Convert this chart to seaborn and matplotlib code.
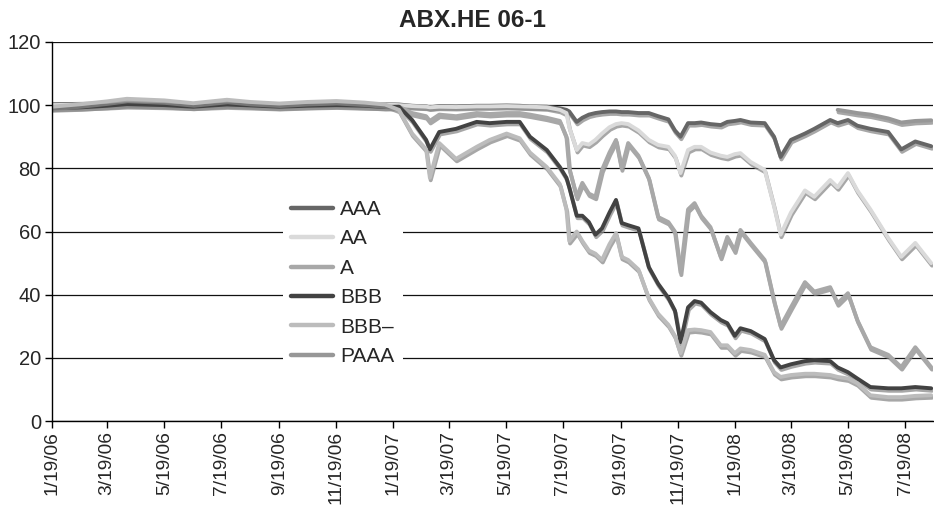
import pandas as pd
import numpy as np
import matplotlib
matplotlib.use("Agg")
import matplotlib.pyplot as plt
import matplotlib.patheffects as pe
import seaborn as sns

# Values (ABX.HE 06-1 prices)
dates = [
    "2006-01-19", "2006-02-19", "2006-03-19", "2006-04-09", "2006-05-19", "2006-06-19",
    "2006-07-25", "2006-08-19", "2006-09-19", "2006-10-19", "2006-11-19", "2006-12-19",
    "2007-01-10",
    "2007-01-25", "2007-02-08", "2007-02-23", "2007-02-27", "2007-03-09", "2007-03-27",
    "2007-04-18", "2007-05-02", "2007-05-20", "2007-06-03", "2007-06-14", "2007-07-02",
    "2007-07-16", "2007-07-23", "2007-07-26", "2007-08-03", "2007-08-09", "2007-08-16",
    "2007-08-23", "2007-08-30", "2007-09-07", "2007-09-14", "2007-09-20", "2007-09-27",
    "2007-10-08", "2007-10-19", "2007-10-29", "2007-11-09", "2007-11-16", "2007-11-22",
    "2007-11-30", "2007-12-07", "2007-12-14", "2007-12-24", "2008-01-04", "2008-01-11",
    "2008-01-19", "2008-01-25", "2008-02-05", "2008-02-20", "2008-03-01", "2008-03-08",
    "2008-03-19", "2008-04-03", "2008-04-13", "2008-04-30", "2008-05-08", "2008-05-19",
    "2008-05-29", "2008-06-12", "2008-07-01", "2008-07-15", "2008-07-30", "2008-08-16",
]

aaa = [100.3, 100.4, 100.5, 100.6, 100.4, 100.3, 100.5, 100.4, 100.3, 100.5, 100.6, 100.4, 100.3,
       100.2, 99.8, 99.6, 99.3, 99.7, 99.6, 99.8, 99.8, 99.9, 99.8,
       99.6, 99.5, 99.0, 98.5, 98.0, 94.7, 96.0, 97.0, 97.5, 97.8,
       98.0, 98.0, 97.8, 97.8, 97.5, 97.5, 96.5, 95.5, 92.0, 90.0,
       94.3, 94.3, 94.5, 94.0, 93.7, 94.7, 95.0, 95.3, 94.5, 94.3,
       90.0, 83.6, 89.0, 91.0, 92.5, 95.3, 94.3, 95.3, 93.5, 92.5,
       91.5, 86.0, 88.5, 87.0]
aa = [100.0, 100.2, 100.5, 100.8, 100.5, 100.3, 100.6, 100.5, 100.3, 100.5, 100.6, 100.4, 100.2,
      100.0, 99.7, 99.5, 99.3, 99.5, 99.4, 99.6, 99.6, 99.7, 99.6,
      99.5, 99.3, 98.5, 97.5, 93.0, 85.8, 88.0, 87.5, 89.0, 91.0,
      93.0, 94.0, 94.3, 94.0, 92.0, 89.0, 87.4, 86.8, 84.0, 78.5,
      85.8, 86.8, 86.8, 85.0, 84.0, 83.6, 84.5, 84.8, 82.0, 79.5,
      68.0, 59.0, 66.0, 73.0, 71.0, 76.3, 74.0, 78.5, 73.0, 67.0,
      58.0, 52.0, 56.4, 50.0]
a = [99.2, 99.4, 99.7, 100.0, 99.8, 99.5, 99.9, 99.7, 99.4, 99.7, 99.9, 99.6, 99.5,
     99.5, 97.5, 96.5, 95.0, 97.0, 96.5, 97.5, 97.2, 97.5, 97.5,
     97.0, 96.0, 95.0, 90.0, 80.0, 71.0, 75.4, 72.0, 71.0, 79.5,
     85.0, 89.0, 80.0, 88.0, 84.0, 77.0, 64.6, 63.0, 60.0, 47.0,
     67.0, 69.0, 65.0, 61.4, 52.0, 58.3, 54.0, 60.5, 56.4, 51.0,
     38.0, 30.0, 36.0, 44.0, 41.0, 42.4, 37.3, 40.5, 32.0, 23.4,
     21.0, 17.1, 23.4, 17.1]
bbb = [99.0, 99.3, 99.8, 100.3, 100.0, 99.5, 100.2, 99.9, 99.5, 99.8, 100.0, 99.8, 99.4,
       99.5, 95.3, 89.0, 86.0, 91.5, 92.5, 94.7, 94.3, 94.7, 94.7,
       90.0, 85.8, 80.4, 77.0, 74.0, 65.0, 65.0, 63.0, 59.0, 61.0,
       66.0, 70.0, 62.7, 62.0, 61.0, 48.8, 43.5, 39.0, 35.0, 25.0,
       36.0, 38.0, 37.5, 34.5, 32.0, 31.0, 27.0, 29.4, 28.5, 26.0,
       19.3, 17.0, 18.0, 19.0, 19.3, 19.0, 17.0, 15.5, 13.5, 10.8,
       10.4, 10.4, 10.8, 10.4]
bbb_minus = [99.5, 100.3, 101.2, 102.0, 101.5, 100.6, 101.7, 101.0, 100.5, 101.0, 101.3, 100.8, 100.2,
             98.5, 91.0, 86.0, 77.0, 88.0, 83.0, 86.8, 89.0, 91.0, 89.5,
             85.0, 80.4, 75.0, 67.0, 57.0, 60.0, 57.0, 54.0, 53.0, 51.0,
             56.0, 59.5, 52.0, 51.0, 48.0, 39.0, 34.0, 30.5, 27.0, 21.5,
             28.8, 29.0, 28.8, 28.2, 24.0, 24.0, 21.5, 23.0, 22.5, 21.0,
             15.5, 14.0, 14.6, 15.0, 15.0, 14.6, 14.0, 13.5, 12.0, 8.2,
             7.6, 7.6, 8.0, 8.2]
paaa = [np.nan] * 59 + [98.5, 98.0, 97.5, 97.0, 95.8, 94.5, 95.0, 95.2]

series_names = ["AAA", "AA", "A", "BBB", "BBB\u2013", "PAAA"]
colors = ["#666666", "#dadada", "#a8a8a8", "#424242", "#bcbcbc", "#979797"]

wide = pd.DataFrame({
    "date": pd.to_datetime(dates),
    "AAA": aaa, "AA": aa, "A": a, "BBB": bbb, "BBB\u2013": bbb_minus, "PAAA": paaa,
})
df = wide.melt(id_vars="date", var_name="series", value_name="price").dropna()

sns.set_style("white")
plt.rcParams["font.family"] = ["Liberation Sans", "DejaVu Sans"]

fig, ax = plt.subplots(figsize=(9.34, 5.05), dpi=100)
fig.subplots_adjust(left=0.0557, right=0.999, top=0.917, bottom=0.166)

sns.lineplot(data=df, x="date", y="price", hue="series", hue_order=series_names,
             palette=dict(zip(series_names, colors)), linewidth=2.8,
             errorbar=None, ax=ax, legend=True)

# axes
ax.set_ylim(0, 120)
ax.set_yticks(range(0, 121, 20))
start = pd.Timestamp("2006-01-19")
ax.set_xlim(start, pd.Timestamp("2008-08-18"))
ticks = [start + pd.DateOffset(months=2 * i) for i in range(16)]
ax.set_xticks(ticks)
ax.set_xticklabels([f"{t.month}/{t.day}/{t.strftime('%y')}" for t in ticks], rotation=90)
ax.set_xlabel("")
ax.set_ylabel("")
ax.grid(axis="y", color="#111111", linewidth=0.9)
ax.grid(axis="x", visible=False)
for side in ["top", "right"]:
    ax.spines[side].set_visible(False)
for side in ["left", "bottom"]:
    ax.spines[side].set_color("black")
    ax.spines[side].set_linewidth(1.0)
ax.tick_params(axis="both", direction="out", length=5, width=1, color="black",
               bottom=True, left=True)
ax.tick_params(axis="y", labelsize=14.5, pad=3)
ax.tick_params(axis="x", labelsize=13.8, pad=2)
ax.set_title("ABX.HE 06-1", fontsize=17.5, fontweight="bold", pad=11)
ax.title.set_x(0.477)

leg = ax.legend(loc="upper left", bbox_to_anchor=(0.262, 0.605), borderaxespad=0,
                frameon=True, facecolor="white", edgecolor="none", framealpha=1,
                fontsize=15, handlelength=2.0, handletextpad=0.35,
                labelspacing=0.5, borderpad=0.4)
for h in leg.get_lines():
    h.set_linewidth(3.2)

# drop shadow under each series line
for line in ax.lines:
    line.set_path_effects([pe.SimpleLineShadow(offset=(0.6, -1.8), shadow_color="#8a8a8a", alpha=0.75),
                           pe.Normal()])

fig.savefig("out.png", dpi=100)
